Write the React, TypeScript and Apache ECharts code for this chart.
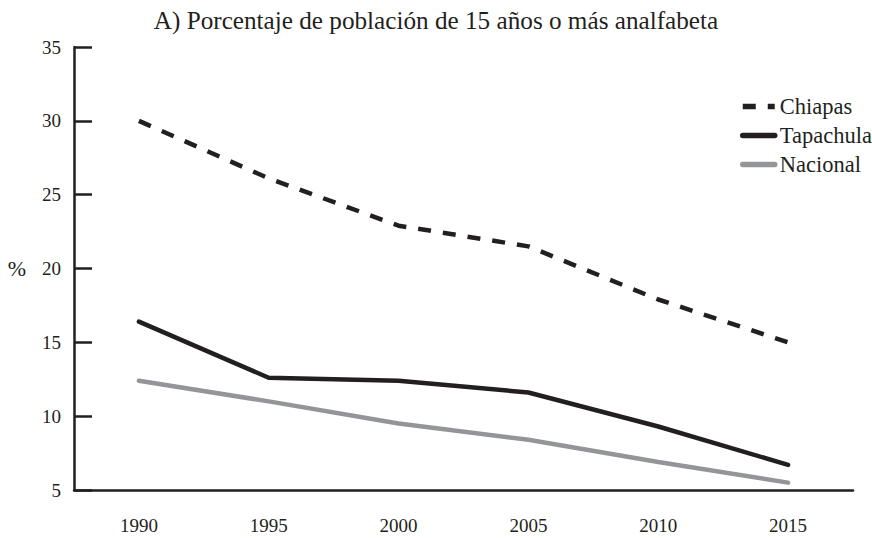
import React, { useEffect, useRef } from "react";
import * as echarts from "echarts";

const years = ["1990", "1995", "2000", "2005", "2010", "2015"];
const chiapas = [30.0, 26.1, 22.9, 21.5, 17.9, 15.0];
const tapachula = [16.4, 12.6, 12.4, 11.6, 9.3, 6.7];
const nacional = [12.4, 11.0, 9.5, 8.4, 6.9, 5.5];

const FONT = "Liberation Serif";
const DARK = "#231f20";
const GRAY = "#939598";

export default function App() {
  const ref = useRef<HTMLDivElement>(null);
  useEffect(() => {
    if (!ref.current) return;
    const chart = echarts.init(ref.current, undefined, { renderer: "svg" });
    chart.setOption({
      animation: false,
      backgroundColor: "#ffffff",
      textStyle: { fontFamily: FONT },
      title: {
        text: "A) Porcentaje de población de 15 años o más analfabeta",
        left: "center",
        top: 3,
        textStyle: { fontFamily: FONT, fontSize: 25.2, fontWeight: "normal", color: DARK },
      },
      legend: {
        orient: "vertical",
        left: 735,
        top: 90,
        itemWidth: 32,
        itemHeight: 14,
        itemGap: 6,
        itemStyle: { color: "rgba(0,0,0,0)", borderColor: "rgba(0,0,0,0)", borderWidth: 0, opacity: 0 },
        lineStyle: { width: 5.5 },
        textStyle: { fontFamily: FONT, fontSize: 22.5, color: DARK },
        data: ["Chiapas", "Tapachula", "Nacional"],
      },
      grid: { left: 74, right: 19, top: 47, bottom: 48, containLabel: false },
      xAxis: {
        type: "category",
        data: years,
        boundaryGap: true,
        axisLine: { lineStyle: { color: DARK, width: 2.5 } },
        axisTick: { alignWithLabel: true, inside: true, length: 11, lineStyle: { color: DARK, width: 2.5 } },
        axisLabel: { margin: 26, fontFamily: FONT, fontSize: 19, color: DARK },
      },
      yAxis: {
        type: "value",
        min: 5,
        max: 35,
        interval: 5,
        name: "%",
        nameLocation: "middle",
        nameRotate: 0,
        nameGap: 48,
        nameTextStyle: { fontFamily: FONT, fontSize: 22, color: DARK },
        splitLine: { show: false },
        axisLine: { show: true, lineStyle: { color: DARK, width: 2.5 } },
        axisTick: { show: true, inside: true, length: 18, lineStyle: { color: DARK, width: 2.5 } },
        axisLabel: { margin: 13, fontFamily: FONT, fontSize: 19, color: DARK },
      },
      series: [
        {
          name: "Chiapas",
          type: "line",
          data: chiapas,
          symbol: "none",
          lineStyle: { color: DARK, width: 4.5, type: [13, 12] },
          itemStyle: { color: DARK },
        },
        {
          name: "Tapachula",
          type: "line",
          data: tapachula,
          symbol: "none",
          lineStyle: { color: DARK, width: 4.5, cap: "round" },
          itemStyle: { color: DARK },
        },
        {
          name: "Nacional",
          type: "line",
          data: nacional,
          symbol: "none",
          lineStyle: { color: GRAY, width: 4.5, cap: "round" },
          itemStyle: { color: GRAY },
        },
      ],
    });
    return () => chart.dispose();
  }, []);
  return <div ref={ref} style={{ width: 872, height: 538, position: "absolute", left: 0, top: 0 }} />;
}
